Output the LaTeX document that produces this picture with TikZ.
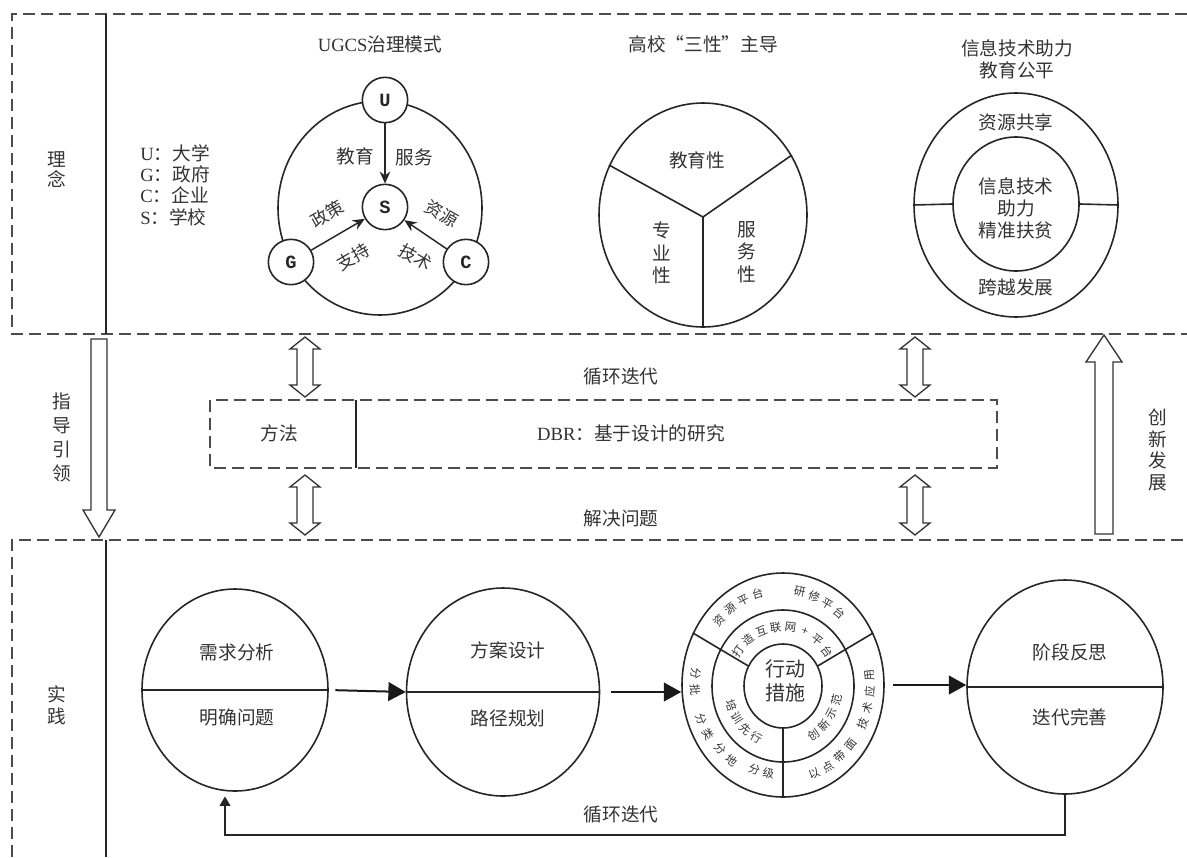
\documentclass[tikz,border=0pt]{standalone}
\usepackage{fontspec}
\setmainfont{Noto Sans CJK SC}
\newfontfamily\lat{Liberation Serif}
\newfontfamily\mono{Liberation Mono}
\usetikzlibrary{arrows.meta,shapes.geometric}
\newcommand\ringtext[9]{%
  \foreach \ch [count=\i from 0] in {#8} {%
    \pgfmathsetmacro\ang{#5+\i*#6}%
    \node[small, rotate=\ang+#7] (#9-\i) at ({#1+#3*cos(\ang)},{#2-#4*sin(\ang)}) {\ch};
  }}
\newcommand\myDArrow[3]{%
  \draw[hollow] (#1,#2) -- (#1+15,#2+12) -- (#1+8,#2+12) -- (#1+8,#3-12) -- (#1+15,#3-12)
    -- (#1,#3) -- (#1-15,#3-12) -- (#1-8,#3-12) -- (#1-8,#2+12) -- (#1-15,#2+12) -- cycle;}
\begin{document}
\begin{tikzpicture}[x=0.75pt,y=-0.75pt,
  dline/.style={draw=black!70, line width=1.2pt, dash pattern=on 9pt off 4.5pt},
  sline/.style={draw=black!85, line width=1.1pt},
  shp/.style={draw=black!85, line width=1.2pt},
  lbl/.style={font=\fontsize{14}{17}\selectfont, text=black!80, inner sep=0pt},
  slbl/.style={font=\fontsize{13}{14}\selectfont, text=black!80, inner sep=0pt},
  small/.style={font=\fontsize{8.5}{9}\selectfont, text=black!80, inner sep=0pt},
  ell/.style={ellipse, draw=black!85, line width=1.2pt, inner sep=0pt},
  letter/.style={circle, draw=black!85, line width=1.2pt, minimum size=34pt, inner sep=0pt,
    font=\mono\bfseries\fontsize{14}{14}\selectfont, fill=white, text=black!85},
  hollow/.style={draw=black!80, line width=1pt, fill=white},
  flow/.style={draw=black!90, line width=1.5pt, -{Triangle[length=13pt,width=14pt]}},
  fb/.style={draw=black!85, line width=1.1pt, -{Triangle[length=7pt,width=8pt]}},
  ustealth/.style={draw=black!85, line width=1.1pt, -{Stealth[length=9pt,width=8pt]}},
]
\useasboundingbox (0,0) rectangle (1187,857);

% ---------- frames ----------
\draw[dline] (1187,14) -- (12,14) -- (12,334) -- (1187,334);
\draw[sline] (106,14) -- (106,334);
\draw[dline] (12,857) -- (12,540) -- (1187,540);
\draw[sline] (106,540) -- (106,857);

\node[lbl, align=center, font=\fontsize{14}{15}\selectfont] (linian) at (57,170) {理\\念};
\node[lbl, align=center, font=\fontsize{14}{16.5}\selectfont] (shijian) at (57,705) {实\\践};

% ---------- UGCS ----------
\node[lbl, anchor=west, align=left, font=\fontsize{14}{16}\selectfont] (legend) at (140,185)
  {{\lat U}：大学\\{\lat G}：政府\\{\lat C}：企业\\{\lat S}：学校};
\node[lbl] (t1) at (380,44) {{\lat UGCS}治理模式};
\node[ell, minimum width=153pt, minimum height=160.5pt] (big) at (380,208) {};
\node[letter] (U) at (385,100) {U};
\node[letter] (S) at (385,207) {S};
\node[letter] (G) at (291,262) {G};
\node[letter] (C) at (466,262) {C};
\draw[ustealth] (U) -- (S);
\draw[ustealth] (G) -- (S);
\draw[ustealth] (C) -- (S);
\node[lbl] (jy) at (355,156) {教育};
\node[lbl] (fw) at (414,157) {服务};
\node[slbl, rotate=30] (zc) at (327,214) {政策};
\node[slbl, rotate=30] (zh) at (353,257) {支持};
\node[slbl, rotate=-30] (zy) at (442,214) {资源};
\node[slbl, rotate=-30] (js) at (416,257) {技术};

% ---------- three properties ----------
\node[lbl] (t2) at (703,44) {高校“三性”主导};
\node[ell, minimum width=156pt, minimum height=168pt] (sx) at (703,215) {};
\coordinate (sxc) at (703,217);
\draw[shp] (sx.152) -- (sxc) -- (sx.34);
\draw[shp] (sxc) -- (sx.south);
\node[lbl] (jyx) at (697,160) {教育性};
\node[lbl, align=center] (zyx) at (662,253) {专\\业\\性};
\node[lbl, align=center] (fwx) at (747,252) {服\\务\\性};

% ---------- information technology ----------
\node[lbl, align=center, font=\fontsize{14}{16.5}\selectfont] (t3) at (1017,59) {信息技术助力\\教育公平};
\node[ell, minimum width=153pt, minimum height=168pt] (xo) at (1016,205) {};
\node[ell, minimum width=94.5pt, minimum height=100.5pt] (xi) at (1016,204) {};
\draw[shp] (xo.west) -- (xi.west);
\draw[shp] (xo.east) -- (xi.east);
\node[lbl] (zygx) at (1016,122) {资源共享};
\node[lbl, align=center, font=\fontsize{14}{16.5}\selectfont] (xxjs) at (1016,208) {信息技术\\助力\\精准扶贫};
\node[lbl] (kyfz) at (1016,287) {跨越发展};

% ---------- middle band ----------
\draw[hollow] (91,339) -- (107,339) -- (107,510) -- (115,510) -- (99,537) -- (83,510) -- (91,510) -- cycle;
\node[lbl, align=center, font=\fontsize{14}{18}\selectfont] (zdyl) at (62,437) {指\\导\\引\\领};
\draw[hollow] (1095,534) -- (1113,534) -- (1113,362) -- (1122,362) -- (1104,335) -- (1086,362) -- (1095,362) -- cycle;
\node[lbl, align=center, font=\fontsize{14}{16.3}\selectfont] (cxfz) at (1158,450) {创\\新\\发\\展};
\myDArrow{305}{337}{397}
\myDArrow{305}{475}{535}
\myDArrow{915}{337}{397}
\myDArrow{915}{475}{535}
\draw[dline] (210,400) rectangle (997,468);
\draw[sline] (356,400) -- (356,468);
\node[lbl] (ff) at (279,433) {方法};
\node[lbl] (dbr) at (631,433) {{\lat DBR}：基于设计的研究};
\node[lbl] (xhdd1) at (621,376) {循环迭代};
\node[lbl] (jjwt) at (621,518) {解决问题};

% ---------- practice row ----------
\node[ell, minimum width=139.5pt, minimum height=151.5pt] (e1) at (235,690) {};
\draw[shp] (e1.west) -- (e1.east);
\node[lbl] (xqfx) at (237,652) {需求分析};
\node[lbl] (mqwt) at (237,717) {明确问题};

\node[ell, minimum width=144.75pt, minimum height=156pt] (e2) at (503,692) {};
\draw[shp] (e2.west) -- (e2.east);
\node[lbl] (fasj) at (508,650) {方案设计};
\node[lbl] (ljgh) at (508,718) {路径规划};

\node[ell, minimum width=151.5pt, minimum height=168pt] (a1) at (783,685) {};
\node[ell, minimum width=106.5pt, minimum height=114pt] (a2) at (783,686) {};
\node[ell, minimum width=58.5pt, minimum height=63pt] (a3) at (783,686) {};
\draw[shp] (a3.150) -- (a1.150);
\draw[shp] (a3.30) -- (a1.30);
\draw[shp] (a3.south) -- (a1.south);
\node[lbl, align=center, font=\fontsize{15}{18.5}\selectfont] (xdcs) at (785,681) {行动\\措施};
\ringtext{783}{685}{87}{95}{137}{-10}{-90}{资,源,平,台}{r1}
\ringtext{783}{685}{87}{95}{79}{-10}{-90}{研,修,平,台}{r2}
\ringtext{783}{685}{87}{95}{-24}{10}{90}{技,术,应,用}{r3}
\ringtext{783}{685}{87}{95}{-69}{10}{90}{以,点,带,面}{r4}
\ringtext{783}{685}{88}{95}{173}{10}{90}{分,批}{r5}
\ringtext{783}{685}{87}{95}{201}{10}{90}{分,类}{r6}
\ringtext{783}{685}{86}{94}{223}{10}{90}{分,地}{r7}
\ringtext{783}{685}{84}{90}{250}{10}{90}{分,级}{r8}
\ringtext{783}{686}{55}{59}{144.25}{-15.5}{-90}{打,造,互,联,网,+,平,台}{m1}
\ringtext{783}{686}{55}{59}{199}{14}{90}{培,训,先,行}{m2}
\ringtext{783}{686}{55}{59}{-56}{14}{90}{创,新,示,范}{m3}

\node[ell, minimum width=147pt, minimum height=160.5pt] (e4) at (1065,687) {};
\draw[shp] (e4.west) -- (e4.east);
\node[lbl] (jdfs) at (1070,652) {阶段反思};
\node[lbl] (ddws) at (1070,717) {迭代完善};

\draw[flow, shorten <=5pt] (e1.east) -- (e2.west);
\draw[flow, shorten <=8pt] (e2.east) -- (e2.east -| a1.west);
\draw[flow, shorten <=6pt] (a1.east) -- (a1.east -| e4.west);

\coordinate (lp) at (0,835);
\draw[fb, shorten >=3.5pt] (e4.south) -- (e4.south |- lp) -| ([xshift=-7.5pt]e1.south);
\node[lbl] (xhdd2) at (621,814) {循环迭代};
\end{tikzpicture}
\end{document}
